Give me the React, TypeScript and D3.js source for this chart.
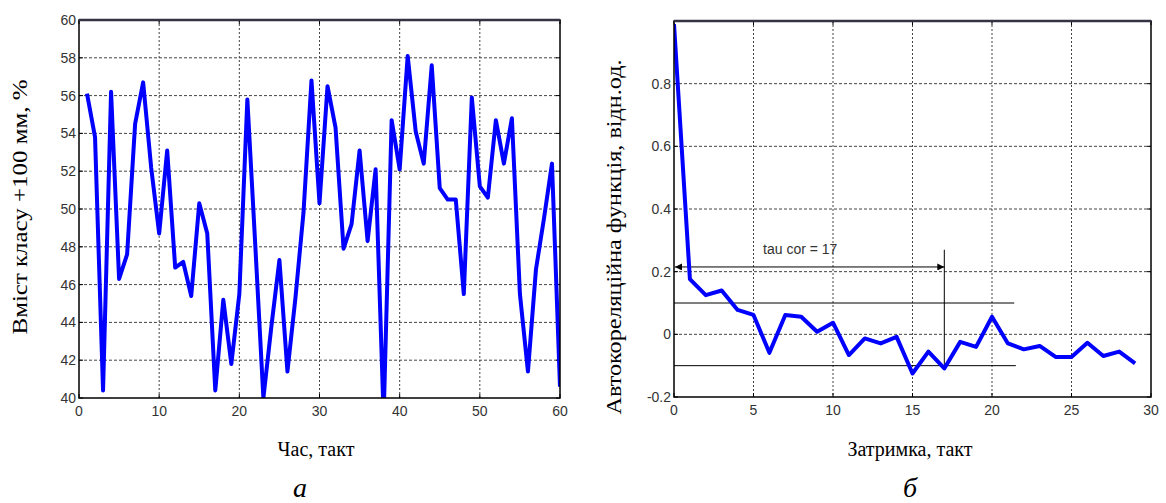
import React from 'react';
import * as d3 from 'd3';

// (а) content of class +100 mm, per tact
const timeTicks = [0, 10, 20, 30, 40, 50, 60];
const contentTicks = [40, 42, 44, 46, 48, 50, 52, 54, 56, 58, 60];
const content = [
  56.1, 53.8, 40.4, 56.2, 46.3, 47.6, 54.5, 56.7, 52.2, 48.7,
  53.1, 46.9, 47.2, 45.4, 50.3, 48.7, 40.4, 45.2, 41.8, 45.5,
  55.8, 48.0, 40.0, 43.8, 47.3, 41.4, 45.3, 49.8, 56.8, 50.3,
  56.5, 54.3, 47.9, 49.2, 53.1, 48.3, 52.1, 39.0, 54.7, 52.1,
  58.1, 54.1, 52.4, 57.6, 51.1, 50.5, 50.5, 45.5, 55.9, 51.2,
  50.6, 54.7, 52.4, 54.8, 45.5, 41.4, 46.8, 49.5, 52.4, 40.6,
];

// (б) autocorrelation by lag
const lagTicks = [0, 5, 10, 15, 20, 25, 30];
const acfTicks = [-0.2, 0, 0.2, 0.4, 0.6, 0.8];
const acf = [
  0.99, 0.176, 0.125, 0.14, 0.078, 0.062, -0.059, 0.062, 0.056, 0.008,
  0.037, -0.066, -0.013, -0.029, -0.008, -0.125, -0.055, -0.109, -0.024, -0.04,
  0.056, -0.029, -0.048, -0.037, -0.072, -0.072, -0.027, -0.069, -0.055, -0.093,
];
const tauCor = 17;
const confLevel = 0.1;
const confEnd = 21.4;
const arrowLevel = 0.215;
const tauTop = 0.27;

const tickFont = { fontFamily: 'Liberation Sans, Arial, sans-serif', fontSize: 14, fill: '#333' };
const labelFont = { fontFamily: 'Liberation Serif, Times New Roman, serif', fontSize: 20, fill: '#000' };

const Panel = ({ id, x, y, xTicks, yTicks, data, xs, yFmt, children }) => {
  const [x0, x1] = x.range();
  const [y1, y0] = y.range();
  const line = d3.line().x((d) => x(d[0])).y((d) => y(d[1]));
  return (
    <g>
      <defs>
        <clipPath id={id}>
          <rect x={x0} y={y0} width={x1 - x0} height={y1 - y0} />
        </clipPath>
      </defs>
      {xTicks.slice(1, -1).map((t) => (
        <line key={'gx' + t} x1={x(t)} x2={x(t)} y1={y0} y2={y1} stroke="#444" strokeDasharray="2,2" />
      ))}
      {yTicks.slice(1).map((t) => (
        <line key={'gy' + t} x1={x0} x2={x1} y1={y(t)} y2={y(t)} stroke="#444" strokeDasharray="3,2" />
      ))}
      {xTicks.map((t) => (
        <g key={'tx' + t}>
          <line x1={x(t)} x2={x(t)} y1={y1} y2={y1 - 4} stroke="#000" />
          <line x1={x(t)} x2={x(t)} y1={y0} y2={y0 + 4} stroke="#000" />
          <text x={x(t)} y={y1 + 18} textAnchor="middle" {...tickFont}>{t}</text>
        </g>
      ))}
      {yTicks.map((t) => (
        <g key={'ty' + t}>
          <line x1={x0} x2={x0 + 4} y1={y(t)} y2={y(t)} stroke="#000" />
          <line x1={x1} x2={x1 - 4} y1={y(t)} y2={y(t)} stroke="#000" />
          <text x={x0 - 3} y={y(t) + 5} textAnchor="end" {...tickFont}>{yFmt(t)}</text>
        </g>
      ))}
      {children}
      <path
        d={line(data.map((v, i) => [xs[i], v]))}
        fill="none"
        stroke="#0000ff"
        strokeWidth={4}
        strokeLinejoin="round"
        clipPath={`url(#${id})`}
      />
      <rect x={x0} y={y0} width={x1 - x0} height={y1 - y0} fill="none" stroke="#000" strokeWidth={1.5} />
      <line x1={x0} x2={x1} y1={y0} y2={y0} stroke="#334" strokeWidth={2.5} />
    </g>
  );
};

export default function App() {
  const xL = d3.scaleLinear().domain([0, 60]).range([79, 560]);
  const yL = d3.scaleLinear().domain([40, 60]).range([398, 20]);
  const xR = d3.scaleLinear().domain([0, 30]).range([674, 1151]);
  const yR = d3.scaleLinear().domain([-0.2, 1]).range([397, 21]);

  const tX = xR(tauCor);
  return (
    <svg width={1166} height={503} style={{ position: 'absolute', left: 0, top: 0, background: '#fff' }}>
      <defs>
        <marker id="arr" viewBox="0 0 10 10" refX="10" refY="5" markerWidth="9" markerHeight="7" orient="auto-start-reverse">
          <path d="M0,0 L10,5 L0,10 z" fill="#000" />
        </marker>
      </defs>
      <Panel
        id="clipL"
        x={xL}
        y={yL}
        xTicks={timeTicks}
        yTicks={contentTicks}
        data={content}
        xs={d3.range(1, content.length + 1)}
        yFmt={(t) => String(t)}
      />
      <Panel
        id="clipR"
        x={xR}
        y={yR}
        xTicks={lagTicks}
        yTicks={acfTicks}
        data={acf}
        xs={d3.range(0, acf.length)}
        yFmt={(t) => (t === 0 ? '0' : String(t))}
      >
        <line x1={xR(0)} x2={xR(confEnd)} y1={yR(confLevel)} y2={yR(confLevel)} stroke="#000" />
        <line x1={xR(0)} x2={xR(confEnd + 0.1)} y1={yR(-confLevel)} y2={yR(-confLevel)} stroke="#000" />
        <line
          x1={xR(0) + 1}
          x2={tX}
          y1={yR(arrowLevel)}
          y2={yR(arrowLevel)}
          stroke="#000"
          markerStart="url(#arr)"
          markerEnd="url(#arr)"
        />
        <line x1={tX} x2={tX} y1={yR(tauTop)} y2={yR(acf[tauCor])} stroke="#000" />
        <text x={xR(5.6)} y={yR(arrowLevel) - 13} {...tickFont} fontSize={14}>
          tau cor = 17
        </text>
      </Panel>

      <text transform="translate(27,207) rotate(-90)" textAnchor="middle" {...labelFont} textLength={255} lengthAdjust="spacingAndGlyphs">
        Вміст класу +100 мм, %
      </text>
      <text transform="translate(621,237) rotate(-90)" textAnchor="middle" {...labelFont} textLength={355} lengthAdjust="spacingAndGlyphs">
        Автокореляційна функція, відн.од.
      </text>
      <text x={316} y={456} textAnchor="middle" {...labelFont}>Час, такт</text>
      <text x={910} y={456} textAnchor="middle" {...labelFont}>Затримка, такт</text>
      <text x={300} y={497} textAnchor="middle" {...labelFont} fontSize={28} fontStyle="italic">а</text>
      <text x={910} y={497} textAnchor="middle" {...labelFont} fontSize={28} fontStyle="italic">б</text>
    </svg>
  );
}
